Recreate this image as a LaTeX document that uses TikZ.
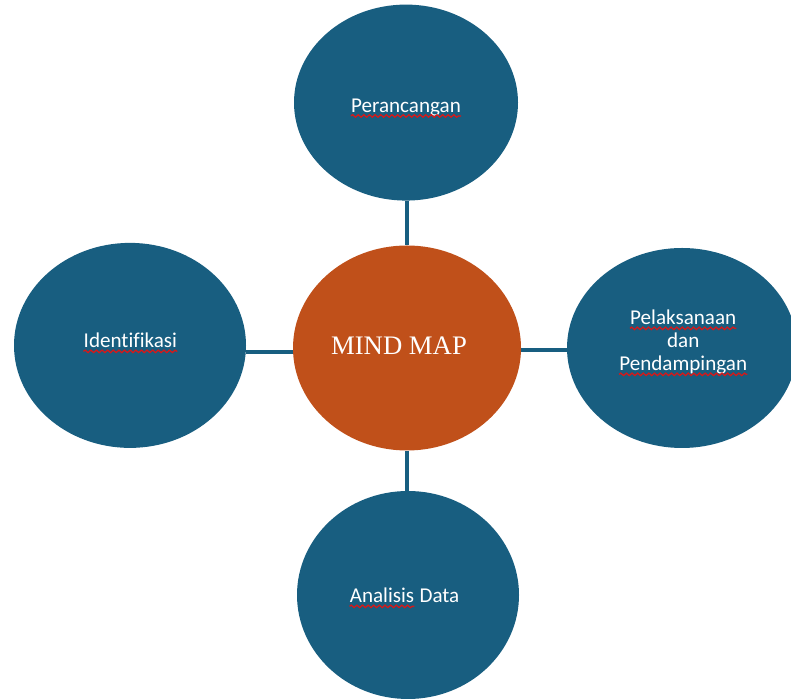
\documentclass[tikz,border=0pt]{standalone}
\usepackage{fontspec}
\setmainfont{Liberation Serif}
\setsansfont{Carlito}[Ligatures=NoCommon]
\usetikzlibrary{positioning, shapes.geometric, decorations.pathmorphing}
\definecolor{mapblue}{HTML}{185E80}
\definecolor{maporange}{HTML}{C0501A}
\definecolor{spellred}{HTML}{D81818}

\begin{document}
\begin{tikzpicture}[
  blob/.style={ellipse, fill=mapblue, inner sep=0pt},
  hub/.style={ellipse, fill=maporange, inner sep=0pt},
  word/.style={inner sep=0pt, anchor=base, text=white, font=\sffamily\fontsize{15}{17}\selectfont},
  link/.style={draw=mapblue, line width=2.8pt},
  spell/.style={draw=spellred, line width=0.9pt, decorate,
                decoration={snake, amplitude=0.9pt, segment length=4pt}}
]
\useasboundingbox (0,0) rectangle (19.775,17.475);

% bubbles
\node[hub,  minimum width=5.7cm, minimum height=5.125cm] (mind)   at (10.175,8.775) {};
\node[blob, minimum width=5.6cm, minimum height=4.9cm]   (top)    at (10.15,14.91)  {};
\node[blob, minimum width=5.8cm, minimum height=5.125cm] (left)   at (3.25,8.84)    {};
\node[blob, minimum width=5.75cm, minimum height=5.0cm]  (right)  at (17.05,8.775)  {};
\node[blob, minimum width=5.55cm, minimum height=5.2cm]  (bottom) at (10.2,2.6)     {};

% spokes, kept straight
\draw[link] (mind.north) -- (mind.north |- top.south);
\draw[link] (mind.south) -- (mind.south |- bottom.north);
\draw[link] ([yshift=-0.1cm]mind.west) -- ([yshift=-0.1cm]mind.west -| left.east);
\draw[link] ([yshift=-0.05cm]mind.east) -- ([yshift=-0.05cm]mind.east -| right.west);

% labels
\node[word, font=\rmfamily\fontsize{19}{21}\selectfont] (hubtxt) at (9.975,8.6) {MIND MAP};
\node[word] (peran) at (10.15,14.66) {Perancangan};
\node[word] (ident) at (3.26,8.775)  {Identifikasi};
\node[word] (pelak) at (17.08,9.35)  {Pelaksanaan};
\node[word] (dan)   at (17.08,8.775) {dan};
\node[word] (pend)  at (17.08,8.2)   {Pendampingan};
\node[word] (anal)  at (9.55,2.4)    {Analisis};
\node[word, anchor=base west] (data) at ([xshift=3.4pt]anal.base east) {Data};

% spell-check marks
\foreach \w in {peran, ident, pelak, pend, anal}
  \draw[spell] ([yshift=-2.4pt]\w.base west) -- ([yshift=-2.4pt]\w.base east);
\end{tikzpicture}
\end{document}
